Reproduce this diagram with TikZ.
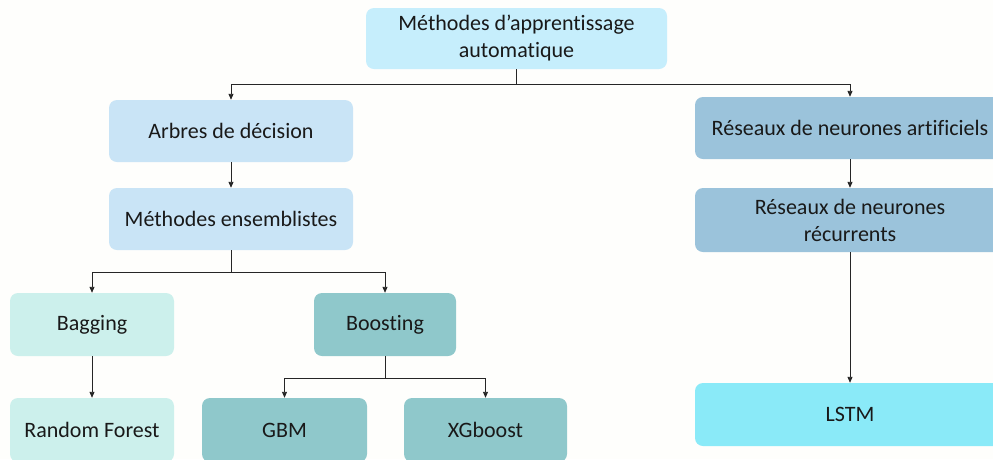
\documentclass[tikz,border=0pt]{standalone}
\usepackage{fontspec}
\setmainfont[Ligatures={NoCommon}]{Carlito}
\usetikzlibrary{arrows.meta}
\definecolor{bgc}{HTML}{FEFEFC}
\definecolor{ctop}{HTML}{C6EEFC}
\definecolor{carb}{HTML}{C9E4F6}
\definecolor{cbag}{HTML}{CCF0EC}
\definecolor{cboo}{HTML}{8FC8CB}
\definecolor{crna}{HTML}{9BC3DB}
\definecolor{clstm}{HTML}{8AEAF8}
\definecolor{lnc}{HTML}{262626}
\begin{document}
\begin{tikzpicture}[x=1pt,y=-1pt,
  box/.style={rounded corners=8pt,draw=none,align=center,font=\fontsize{22}{27}\selectfont,inner sep=0pt,text=black!90},
  conn/.style={draw=lnc,line width=0.9pt},
  arr/.style={conn,-{Triangle[length=6pt,width=5pt]}}]
\useasboundingbox (0,0) rectangle (993,459);
\fill[bgc] (0,0) rectangle (993,459);
\clip (0,0) rectangle (993,459);
\node[box,fill=ctop,minimum width=301pt,minimum height=61pt] (top) at (516.5,38.5) {Méthodes d’apprentissage\\automatique};
\node[box,fill=carb,minimum width=244pt,minimum height=62pt] (arb) at (231,131) {Arbres de décision};
\node[box,fill=carb,minimum width=244pt,minimum height=62pt] (ens) at (231,219) {Méthodes ensemblistes};
\node[box,fill=cbag,minimum width=164pt,minimum height=63pt] (bag) at (92,324.5) {Bagging};
\node[box,fill=cboo,minimum width=142pt,minimum height=63pt] (boo) at (385,324.5) {Boosting};
\node[box,fill=cbag,minimum width=164pt,minimum height=64pt] (rf) at (92,430) {Random Forest};
\node[box,fill=cboo,minimum width=165pt,minimum height=64pt] (gbm) at (284.5,430) {GBM};
\node[box,fill=cboo,minimum width=163pt,minimum height=64pt] (xgb) at (485.5,430) {XGboost};
\node[box,fill=crna,minimum width=310pt,minimum height=62pt] (rna) at (850,128) {Réseaux de neurones artificiels};
\node[box,fill=crna,minimum width=310pt,minimum height=64pt] (rnr) at (850,220) {Réseaux de neurones\\récurrents};
\node[box,fill=clstm,minimum width=310pt,minimum height=63pt] (lstm) at (850,414.5) {LSTM};
% connectors
\coordinate (j1) at (516.5,84);
\draw[conn] (top.south) -- (j1);
\draw[arr] (j1) -| (arb.north);
\draw[arr] (j1) -| (rna.north);
\draw[arr] (arb) -- (ens);
\coordinate (j2) at (231,272);
\draw[conn] (ens.south) -- (j2);
\draw[arr] (j2) -| (bag.north);
\draw[arr] (j2) -| (boo.north);
\draw[arr] (bag) -- (rf);
\coordinate (j3) at (385,378);
\draw[conn] (boo.south) -- (j3);
\draw[arr] (j3) -| (gbm.north);
\draw[arr] (j3) -| (xgb.north);
\draw[arr] (rna) -- (rnr);
\draw[arr] (rnr) -- (lstm);
\end{tikzpicture}
\end{document}
